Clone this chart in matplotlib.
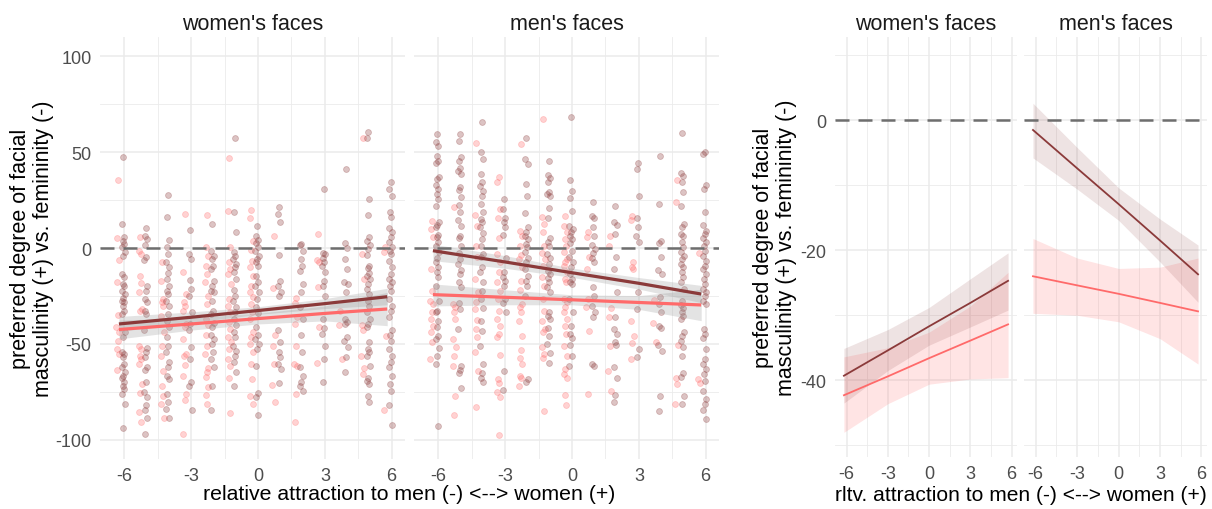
import matplotlib
matplotlib.use("Agg")
import matplotlib.pyplot as plt
import numpy as np

plt.rcParams['font.family'] = ['Liberation Sans', 'DejaVu Sans']
plt.rcParams['axes.unicode_minus'] = False

# ---------------- data ----------------
X_LEVELS = [-6, -5, -4, -3, -2, -1, 0, 1, 2, 3, 4, 5, 6]

# women's faces, dark (indianred4) group
women_dark = [
    [47.6, 12.5, 5.6, 3.8, 2.1, 0.4, -2.2, -4.0, -13.5, -15.3, -18.7, -20, -22.2, -24.0, -26, -27.4, -28.3, -30.0, -32.6, -34.4, -43.9, -46.5, -54.3, -55.2, -56.9, -60.4, -62, -64.7, -66.5, -68, -70.0, -71.7, -73.4, -76.0, -81.2, -93.9],
    [10.3, 6.1, 4.7, 1.6, -4.8, -6.1, -19.6, -22.2, -26.6, -27.9, -32.6, -34.4, -43.0, -52.2, -54.3, -56.9, -62.1, -63.4, -70, -75.2, -77.8, -82.1, -84.7, -88.7, -96.9],
    [27.6, 16.0, 4.4, 0.4, -3.1, -7.5, -10.1, -13.0, -16.1, -19.6, -22.2, -24.0, -27.4, -30.0, -34.4, -37.8, -41.3, -46.5, -50.9, -54.3, -59.5, -62.1, -66.5, -68.2, -76.0, -80.4, -83.8, -88.7],
    [9.4, -3.1, -5.7, -16.5, -21.3, -24.8, -33.5, -39.6, -43.0, -51.7, -57.8, -70, -71.7, -84.7],
    [12.5, -1.4, -4, -5.7, -9.2, -10.9, -17, -19.6, -22.2, -23.1, -27.4, -32.6, -34.4, -39.1, -41.3, -45.6, -47.4, -50, -54.3, -57.8, -62.1, -71.7, -84.7],
    [57.6, 18.9, 8.5, -2.2, -4, -5.7, -8.3, -10.1, -12.7, -16.1, -21.7, -24.8, -27.4, -30.9, -33.5, -37, -40.4, -43.9, -46.5, -50.9, -53.5, -56.1, -59.5, -64.7, -71.7],
    [11.6, 6.4, 4.4, 2.6, 0.4, -1.4, -4, -5.7, -7.5, -9.2, -14.4, -17.5, -19.6, -23.1, -26.6, -30.9, -33.9, -41.3, -45.6, -47.4, -50, -52.6, -61.3, -75.5, -77.8, -87],
    [21.2, 17.7, 13.4, -3.6, -17, -19.6, -23.1, -24.8, -43, -48.8, -54.3, -56.9, -60.4, -63, -70.3],
    [2.1, 1.6, -1.4, -5.7, -9.2, -11.8, -18.7, -23.1, -30.9, -37, -45.6, -54.3, -62.1, -66.5, -70, -71.7, -74.3],
    [30.7, -2.6, -3.1, -5.4, -7.5, -9.2, -12.7, -17, -19.6, -24.8, -37, -41.8, -44.8, -51.2, -57.8, -69.6],
    [41.2, 2.6, -0.2, -5.7, -10.9, -17.9, -18.7, -23.1, -37, -38.7, -39.6, -46.5, -48.3, -51.7, -56.9, -64.7],
    [60.3, 57.6, 25.5, 17.2, 5.6, 3.8, 1.6, -0.5, -3.6, -9.2, -10.6, -13, -14.4, -16.1, -18.7, -21.3, -24, -27.4, -30, -33.5, -37, -39.6, -41.3, -49.1, -52.6, -54.3, -56.4, -61.3, -67.9, -69.1, -70.8, -76.9, -80.4],
    [34.6, 30.7, 26.9, 18.9, 16, 10.3, 8.2, 5.6, 3, 0.4, -1.4, -3.1, -6.6, -10.1, -13.5, -16.1, -17.9, -19.6, -22.2, -26.6, -30, -32.6, -36.1, -43, -45.6, -48.3, -52.6, -56.1, -59.5, -62.1, -66.5, -70.8, -74.3, -82.1, -92.2],
]

# women's faces, light (indianred1) group
women_light = [
    [35.6, 5.0, -6.1, -17.9, -34.9, -41.3, -43.9, -48.3, -52.6, -55.2, -63.4],
    [5.6, -1.4, -3.1, -14.4, -18.2, -23.1, -31.8, -33.1, -50.9, -52.6, -56.1, -58.1, -60.4, -70.8, -75.5, -85.6, -90.8],
    [-7.5, -17.0, -26.6, -27.9, -30, -35.2, -43.9, -50.9, -56.4, -63.9, -71.7, -76.9, -81.2, -88.7],
    [17.5, -12.7, -24, -27.9, -30, -33.1, -39.6, -41.3, -47.4, -55.2, -56.4, -60.9, -66.5, -76.0, -79.5, -96.9],
    [17.2, 0.4, -4, -9.2, -13.5, -17.9, -24.8, -29.2, -37, -40.4, -45.6, -50.9, -55.2, -62.7, -64.7, -67.4, -72.6, -76.5, -81.2],
    [46.7, 19.5, 0.4, -7.5, -10.9, -13.5, -18.7, -26.6, -30, -33.5, -38.7, -42.2, -46.5, -49.1, -52.6, -57.8, -61.3, -67.9, -85.9],
    [20, 15.5, 3.8, -0.9, -6.6, -10.1, -14.4, -19.6, -23.1, -25.7, -29.2, -33.5, -37, -43.9, -46.5, -50, -54.3, -60.4, -68.2, -76.9, -81.2],
    [6.1, -21, -45.6, -51.2, -60.4, -71.3, -80.4],
    [-26.2, -28.8, -36.1, -39.6, -50.9, -60.4, -61.3, -76, -90.5],
    [7.3, -6.1, -7.1, -20.5, -41.3, -59.9],
    [-32.6, -40.1, -58.1],
    [57.1, -3.1, -16.1, -40.4, -43, -56.4, -62.7, -65.6],
    [0.4, -2.2, -46, -84.7],
]

# men's faces, dark group
men_dark = [
    [59.4, 55.4, 53.3, 48.1, 45.5, 44.3, 36.8, 35.9, 32.8, 30.7, 28.1, 25.5, 21.7, 13.4, 12, 10.8, 6.8, 5.5, 2.9, 1.2, -2.3, -5.4, -7.5, -10.1, -12.7, -15.3, -19.6, -27.4, -32.6, -33.5, -37.9, -41.3, -45.7, -47.4, -52.3, -56.4, -60.4, -92.9],
    [59.4, 55.9, 47.2, 45.5, 41.5, 40.3, 38.5, 31.6, 30.4, 26.4, 22.4, 18.6, 14.8, 11.3, 6.4, 5.0, 1.2, -2.6, -5.7, -8.3, -11.3, -13.5, -17.5, -20.5, -28.7, -31.8, -42.2, -61.3, -63.4, -65.1, -73.1],
    [65.8, 49.8, 46.4, 38.5, 34.5, 32.1, 29.9, 26.9, 22.9, 18.6, 15.1, 13.7, 10.8, 7.8, 4.7, 1.2, -3.1, -4.9, -10.1, -12.7, -17.9, -22.2, -26.6, -31.4, -37.9, -43.1, -50.9, -60.4, -65.1, -67.9, -70],
    [25.5, 20.3, 15.9, 13.4, 10.8, 6.8, -5.4, -12.7, -15.3, -17, -19.6, -26.6, -28.7, -33.5, -63.9, -73.8],
    [57.1, 46.4, 43.7, 33.3, 26.9, 18.2, 10.8, 8.2, 6.4, 4.7, 2.2, 0.3, -2.3, -5.4, -7.5, -11, -14.4, -17, -19.6, -24.8, -68.2, -70],
    [45.5, 38, 36.3, 34.2, 29, 28.1, 26.9, 20.7, 15.4, 5, 3.3, 0.9, -3.1, -5.4, -8.3, -11.8, -13.5, -15.8, -17.9, -20.5, -23.1, -33.5, -35.2, -37, -41.9, -46, -50, -54.7, -59.9],
    [68.1, 35.6, 29.9, 25.9, 19.4, 11.6, 9.9, 8.5, 6.4, 4.7, 2.6, -1.4, -4.9, -7.5, -10.1, -13.5, -16.1, -17.9, -18.8, -26.6, -33.5, -40.5, -44.8, -47, -50.5, -56.1, -61.3],
    [24.1, 16.8, 15.4, 10.8, 6.1, 1.6, -0.4, -2.6, -5.4, -7.5, -20.5, -24.8, -30, -33.5, -36.1, -60.4, -61.3],
    [22.1, 13.7, 12, 7.3, -4.9, -11, -23.1, -36.1, -42.2, -44.8, -49.1, -50.5, -62.2, -67.9, -76.6, -80.4],
    [44.3, 41.1, 26.9, 15.4, 10.8, 6.4, 3.3, -23.1, -31.8, -52.6, -56.9],
    [48.1, 22.9, 3.8, 2.6, -4.9, -11.3, -13.5, -25.7, -29.2, -33.5, -40.5, -41.9, -50.5, -53.5, -76.9, -85.2],
    [60.2, 39.1, 37.7, 34.5, 29, 21.7, 12.5, 10.8, 7.3, 6.4, 2.9, 0.3, -2.3, -4, -5.7, -8.3, -10.1, -12.7, -15.3, -17.9, -21.3, -27.4, -29.7, -31.4, -33.5, -35.2, -37, -43.9, -46, -48.3, -51.7, -56.1, -65.1, -67.4, -76.9, -81.3],
    [49.8, 49, 32.8, 30.7, 18.9, 12, 9, 7.3, 5, 2.9, 0.9, -1.4, -4, -6.6, -9.2, -11, -13.5, -16.1, -18.8, -21.3, -23.1, -24.8, -27.4, -29.2, -42.2, -44.8, -47, -52.6, -57.8, -60.4, -63, -65.6, -69.1, -74.3, -78.6, -81.3, -84.7, -89.4],
]

# men's faces, light group
men_light = [
    [14.2, 9.9, 5.5, -11, -22.2, -27.4, -29.2, -33.5, -37, -40.5, -43.9, -48.8, -57.8],
    [21.2, -29.2, -30.9, -33.5, -37, -47.4, -51.7, -56.1, -61.3, -76.9, -87.3],
    [54.7, 17.2, 11.3, 0.9, -4.9, -16.1, -23.1, -28.3, -31.8, -37.3, -42.2, -46.5, -54.3, -63.9, -83],
    [36.8, 34.2, 20.3, 15.9, 5, -3.1, -7.5, -12.7, -17.5, -22.2, -26.6, -32.6, -37, -40.5, -44.8, -46.5, -55.7, -68.2, -70.3, -75.2, -77.8, -97.7],
    [54.2, 9, 6.4, 1.2, -3.6, -5.7, -10.1, -17, -21.7, -29.2, -30.9, -33.5, -37.9, -46, -53, -57.5, -60.4, -66.5, -67.9, -72],
    [67.5, 16, 12.5, 8.2, 1.2, -2.6, -5.7, -9.2, -15.3, -19.6, -26.6, -32.6, -37.9, -42.2, -43.9, -51.7, -55.2, -57.5, -85.2],
    [16.8, 11.6, 8.5, 4.7, 1.2, -2.3, -5.7, -7.5, -9.2, -12.7, -16.1, -17.5, -26.6, -28.3, -30.9, -33.5, -37, -40.5, -44.8, -50.9, -56.1, -63, -65.6, -67.9, -76.6, -81.8],
    [8.5, 5.5, -4.9, -11, -26.6, -30.9, -43.1, -76.1],
    [6.4, 1.2, -31.4, -36.1, -50.9, -63.9, -74.3],
    [16.8, 14.8, -7.1, -10.1, -11, -37.9, -46, -49.5, -57.8],
    [-26.9, -39, -48.8],
    [35.6, 23.8, -50.5, -67.9, -70.8, -81.3],
    [-2.6, -68.2, -70.3],
]

# regression fits (left panels): line and CI band at listed x
fit_x = [-6.25, -3.0, 0.0, 3.0, 5.8]
women_dark_fit = [-39.6, -36.1, -32.6, -29.0, -25.4]
women_dark_lo = [-43.5, -38.9, -34.6, -31.6, -29.6]
women_dark_hi = [-35.7, -33.3, -30.6, -26.4, -21.0]
women_light_fit = [-42.5, -39.6, -36.8, -34.1, -31.8]
women_light_lo = [-47.4, -42.8, -39.6, -38.0, -40.5]
women_light_hi = [-37.6, -36.4, -34.0, -30.2, -23.1]
men_dark_fit = [-1.4, -7.3, -12.9, -18.4, -24.0]
men_dark_lo = [-6.6, -10.6, -15.3, -21.4, -28.5]
men_dark_hi = [2.0, -4.0, -10.5, -15.4, -19.5]
men_light_fit = [-24.3, -25.7, -27.0, -28.4, -29.7]
men_light_lo = [-30.2, -29.6, -29.6, -32.0, -37.9]
men_light_hi = [-18.7, -21.8, -24.4, -24.8, -21.5]

# model estimates (right panels)
est_x = [-6.2, -3.0, 0.0, 3.0, 5.75]
est_women_dark = [-39.3, -35.4, -31.7, -28.1, -24.7]
est_women_dark_lo = [-43.5, -38.5, -34.6, -31.8, -29.2]
est_women_dark_hi = [-35.1, -32.2, -28.8, -24.4, -20.4]
est_women_light = [-42.3, -39.4, -36.6, -33.9, -31.4]
est_women_light_lo = [-48.0, -43.6, -40.6, -39.8, -39.6]
est_women_light_hi = [-36.4, -35.0, -32.6, -28.6, -23.4]
est_men_dark = [-1.5, -7.4, -12.9, -18.5, -23.7]
est_men_dark_lo = [-5.8, -10.6, -15.4, -21.8, -28.0]
est_men_dark_hi = [2.6, -4.2, -10.4, -15.2, -19.2]
est_men_light = [-24.0, -25.4, -26.7, -28.1, -29.4]
est_men_light_lo = [-29.7, -30.0, -31.0, -33.6, -37.5]
est_men_light_hi = [-18.2, -21.2, -22.8, -22.6, -21.2]

facet_titles = ["women's faces", "men's faces"]
xticks = [-6, -3, 0, 3, 6]
left_yticks = [-100, -50, 0, 50, 100]
right_yticks = [-40, -20, 0]
ylab = "preferred degree of facial\nmasculinity (+) vs. femininity (-)"
xlab_left = "relative attraction to men (-) <--> women (+)"
xlab_right = "rltv. attraction to men (-) <--> women (+)"

# ---------------- style ----------------
DARK = "#8B3A3A"
LIGHT = "#FF6A6A"
GRID = "#EBEBEB"
TICKC = "#4D4D4D"
DARK_OFF = -0.05
LIGHT_OFF = -0.3
JIT = [0.0, -0.05, 0.05, -0.025, 0.025, -0.07, 0.07]

fig = plt.figure(figsize=(12.12, 5.10), dpi=100)
W, H = 1212, 510


def ax_at(x0, y0, x1, y1):
    return fig.add_axes([x0 / W, 1 - y1 / H, (x1 - x0) / W, (y1 - y0) / H])


def style(ax, xlim, ylim, major_y, minor_y, show_y):
    ax.set_xlim(*xlim)
    ax.set_ylim(*ylim)
    for s in ax.spines.values():
        s.set_visible(False)
    ax.set_xticks(xticks)
    ax.set_xticks([-4.5, -1.5, 1.5, 4.5], minor=True)
    ax.set_yticks(major_y)
    ax.set_yticks(minor_y, minor=True)
    ax.grid(True, which='major', color=GRID, linewidth=1.1, zorder=0)
    ax.grid(True, which='minor', color=GRID, linewidth=0.6, zorder=0)
    ax.set_axisbelow(True)
    ax.tick_params(which='both', length=0, labelsize=13, labelcolor=TICKC, pad=6)
    if not show_y:
        ax.tick_params(axis='y', labelleft=False)


def scatter_group(ax, data, off, color):
    xs, ys = [], []
    for lvl, vals in zip(X_LEVELS, data):
        for i, v in enumerate(vals):
            xs.append(lvl + off + JIT[i % len(JIT)])
            ys.append(v)
    ax.scatter(xs, ys, s=18, color=color, alpha=0.3, linewidths=0.6, zorder=2)


def zero_line(ax):
    ax.axhline(0, color="#6E6E6E", linewidth=1.8, dashes=(5.6, 3.6), zorder=5)


left_axes = [ax_at(100, 38, 405, 460), ax_at(414, 38, 719, 460)]
right_axes = [ax_at(835, 38, 1017, 458), ax_at(1024, 38, 1207, 458)]

scatter_sets = [(women_dark, women_light), (men_dark, men_light)]
fits = [
    (women_dark_fit, women_dark_lo, women_dark_hi, women_light_fit, women_light_lo, women_light_hi),
    (men_dark_fit, men_dark_lo, men_dark_hi, men_light_fit, men_light_lo, men_light_hi),
]
for i, ax in enumerate(left_axes):
    style(ax, (-7.1, 6.6), (-110, 110), left_yticks, [-75, -25, 25, 75], i == 0)
    d, l = scatter_sets[i]
    scatter_group(ax, l, LIGHT_OFF, LIGHT)
    scatter_group(ax, d, DARK_OFF, DARK)
    dfit, dlo, dhi, lfit, llo, lhi = fits[i]
    ax.fill_between(fit_x, llo, lhi, color="#999999", alpha=0.27, linewidth=0, zorder=3)
    ax.fill_between(fit_x, dlo, dhi, color="#999999", alpha=0.27, linewidth=0, zorder=3)
    ax.plot(fit_x, lfit, color=LIGHT, linewidth=2.3, zorder=4, solid_capstyle='butt')
    ax.plot(fit_x, dfit, color=DARK, linewidth=2.3, zorder=4, solid_capstyle='butt')
    zero_line(ax)
    ax.set_title(facet_titles[i], fontsize=15.5, color="#1A1A1A", pad=6)

ests = [
    (est_women_dark, est_women_dark_lo, est_women_dark_hi, est_women_light, est_women_light_lo, est_women_light_hi),
    (est_men_dark, est_men_dark_lo, est_men_dark_hi, est_men_light, est_men_light_lo, est_men_light_hi),
]
for i, ax in enumerate(right_axes):
    style(ax, (-6.85, 6.4), (-51.8, 12.8), right_yticks, [-50, -30, -10, 10], i == 0)
    dfit, dlo, dhi, lfit, llo, lhi = ests[i]
    ax.fill_between(est_x, llo, lhi, color=LIGHT, alpha=0.18, linewidth=0, zorder=2)
    ax.fill_between(est_x, dlo, dhi, color=DARK, alpha=0.14, linewidth=0, zorder=2)
    ax.plot(est_x, lfit, color=LIGHT, linewidth=1.3, zorder=3)
    ax.plot(est_x, dfit, color=DARK, linewidth=1.3, zorder=3)
    zero_line(ax)
    ax.set_title(facet_titles[i], fontsize=15.5, color="#1A1A1A", pad=6)

# axis titles
for xc, yc in [(32, 249), (775, 248)]:
    fig.text(xc / W, 1 - yc / H, ylab, rotation=90, ha='center', va='center',
             fontsize=15.5, linespacing=1.15, color="black")
fig.text((100 + 719) / 2 / W, 1 - 495 / H, xlab_left, ha='center', va='center', fontsize=15.3)
fig.text((835 + 1207) / 2 / W, 1 - 496 / H, xlab_right, ha='center', va='center', fontsize=15.1)

fig.savefig("out.png", dpi=100)
